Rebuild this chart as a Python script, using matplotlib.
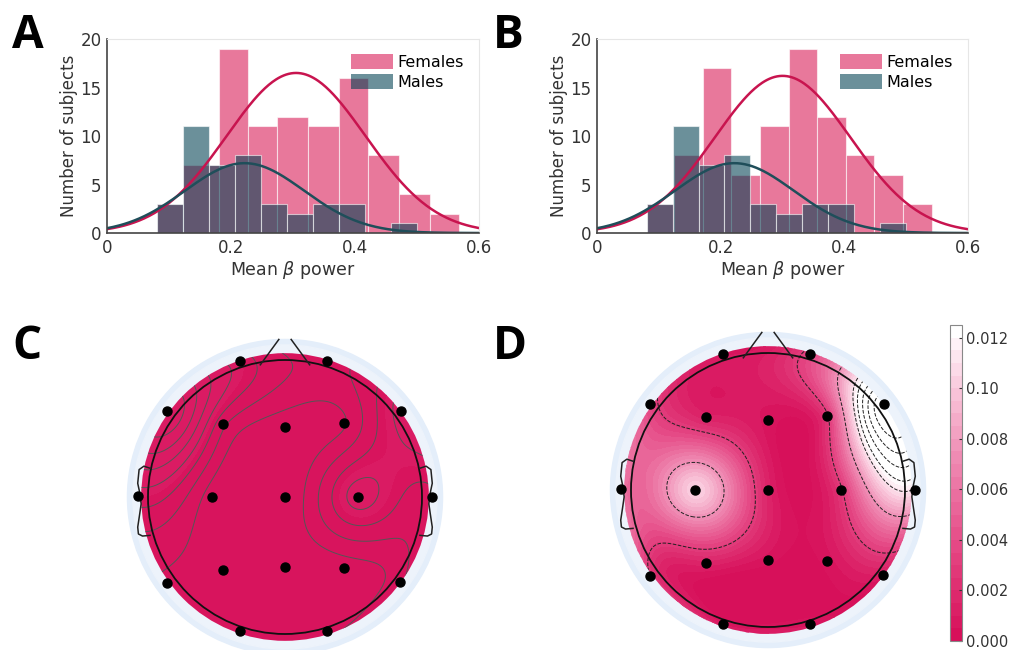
"""Beta power by sex: histograms with normal fits (A, B) and scalp maps (C, D)."""
import matplotlib
matplotlib.use("Agg")
import matplotlib.pyplot as plt
import numpy as np
from matplotlib.cm import ScalarMappable
from matplotlib.colors import BoundaryNorm, LinearSegmentedColormap, Normalize
from matplotlib.patches import Circle, Patch

# ---- histogram data -------------------------------------------------------
male_edges = [0.080, 0.122, 0.164, 0.206, 0.248, 0.290, 0.332, 0.374, 0.416, 0.458, 0.500]
male_counts = [3, 11, 7, 8, 3, 2, 3, 3, 0, 1]

female_edges_a = [0.080, 0.123, 0.180, 0.227, 0.274, 0.325, 0.375, 0.421, 0.471, 0.521, 0.568]
female_counts_a = [3, 7, 19, 11, 12, 11, 16, 8, 4, 2]

female_edges_b = [0.081, 0.124, 0.172, 0.217, 0.264, 0.311, 0.356, 0.402, 0.448, 0.495, 0.541]
female_counts_b = [3, 8, 17, 6, 11, 19, 12, 8, 6, 3]

# normal fits: (mean, sd, peak height)
female_fit_a = (0.305, 0.112, 16.5)
male_fit_a = (0.222, 0.096, 7.2)
female_fit_b = (0.300, 0.110, 16.2)
male_fit_b = (0.222, 0.096, 7.2)

# ---- scalp map data -------------------------------------------------------
channels = ["Fp1", "Fp2", "F7", "F3", "Fz", "F4", "F8", "T3", "C3", "Cz",
            "C4", "T4", "T5", "P3", "Pz", "P4", "T6", "O1", "O2"]
chan_x = [-0.33, 0.31, -0.86, -0.45, 0.00, 0.43, 0.85, -1.07, -0.53, 0.00,
          0.53, 1.07, -0.86, -0.45, 0.00, 0.43, 0.84, -0.33, 0.31]
chan_y = [0.99, 0.99, 0.63, 0.53, 0.51, 0.54, 0.63, 0.01, 0.00, 0.00,
          0.00, 0.00, -0.63, -0.53, -0.51, -0.52, -0.62, -0.98, -0.98]

power_c = [0.0005, 0.0003, 0.0010, 0.00035, 0.00015, 0.0002, 0.0006, 0.0005, 0.00015, 0.0001,
           0.0006, 0.0004, 0.0002, 0.00015, 0.0001, 0.00015, 0.0003, 0.00015, 0.00015]
power_d = [0.0005, 0.0035, 0.0035, 0.0012, 0.0003, 0.0025, 0.0185, 0.0060, 0.0105, 0.0012,
           0.0025, 0.0110, 0.0028, 0.0013, 0.0002, 0.0002, 0.0008, 0.0005, 0.0003]

cbar_ticks = [0.000, 0.002, 0.004, 0.006, 0.008, 0.010, 0.012]
cbar_labels = ["0.000", "0.002", "0.004", "0.006", "0.008", "0.10", "0.012"]

FEMALE = "#d91e58"
MALE = "#004052"
FEMALE_LINE = "#c8144f"
MALE_LINE = "#1f4e5a"
ALPHA = 0.58

plt.rcParams["font.family"] = "DejaVu Sans"


def normal_curve(x, fit):
    mu, sd, peak = fit
    return peak * np.exp(-0.5 * ((x - mu) / sd) ** 2)


def draw_hist(ax, f_edges, f_counts, f_fit, m_fit):
    f_edges = np.asarray(f_edges)
    m_edges = np.asarray(male_edges)
    ax.bar(f_edges[:-1], f_counts, width=np.diff(f_edges), align="edge",
           color=FEMALE, alpha=0.6, edgecolor="white", linewidth=0.8)
    ax.bar(m_edges[:-1], male_counts, width=np.diff(m_edges), align="edge",
           color=MALE, alpha=ALPHA, edgecolor="white", linewidth=0.8)
    xs = np.linspace(0, 0.6, 300)
    ax.plot(xs, normal_curve(xs, f_fit), color=FEMALE_LINE, lw=1.8)
    ax.plot(xs, normal_curve(xs, m_fit), color=MALE_LINE, lw=1.8)
    ax.set_xlim(0, 0.6)
    ax.set_ylim(0, 20)
    ax.set_xticks([0, 0.2, 0.4, 0.6])
    ax.set_xticklabels(["0", "0.2", "0.4", "0.6"])
    ax.set_yticks([0, 5, 10, 15, 20])
    ax.tick_params(labelsize=12, colors="#333333", length=0, pad=4)
    for s in ("left", "bottom"):
        ax.spines[s].set_color("#444444")
        ax.spines[s].set_linewidth(1.2)
    for s in ("top", "right"):
        ax.spines[s].set_color("#e6e6e6")
        ax.spines[s].set_linewidth(0.8)
    ax.set_xlabel(r"Mean $\beta$ power", fontsize=12.5, color="#333333", labelpad=2)
    ax.set_ylabel("Number of subjects", fontsize=12, color="#333333", labelpad=2)
    handles = [Patch(facecolor=FEMALE, alpha=0.6, edgecolor="none"),
               Patch(facecolor=MALE, alpha=ALPHA, edgecolor="none")]
    ax.legend(handles, ["Females", "Males"], loc="upper right", frameon=False,
              fontsize=11.5, handlelength=2.6, handleheight=1.1, handletextpad=0.3,
              borderaxespad=0.3, labelspacing=0.25, bbox_to_anchor=(0.99, 0.98))


def green(r):
    out = np.zeros_like(r)
    nz = r > 0
    out[nz] = r[nz] ** 2 * (np.log(r[nz]) - 1)
    return out


def interp_scalp(vals, gx, gy):
    ex, ey = np.asarray(chan_x), np.asarray(chan_y)
    d = np.hypot(ex[:, None] - ex[None, :], ey[:, None] - ey[None, :])
    w = np.linalg.lstsq(green(d), np.asarray(vals), rcond=None)[0]
    dg = np.hypot(gx[..., None] - ex, gy[..., None] - ey)
    return green(dg) @ w


cmap = LinearSegmentedColormap.from_list(
    "crimson_white",
    [(0.0, "#d7105a"), (0.3, "#e54a86"), (0.6, "#f090b6"),
     (0.85, "#fbd3e3"), (1.0, "#ffffff")])
cmap.set_under("#d7105a")
cmap.set_over("#ffffff")
VMAX = 0.0125
norm = Normalize(vmin=0, vmax=VMAX)
fill_levels = np.linspace(0, VMAX, 26)


def draw_head(ax, vals, line_levels, line_color, line_style):
    ax.set_xlim(-1.2, 1.2)
    ax.set_ylim(-1.2, 1.2)
    ax.axis("off")
    ax.add_patch(Circle((0, 0), 1.15, color="#e4eefa", zorder=0))
    ax.add_patch(Circle((0, 0), 1.11, color="#edf3fb", zorder=0))

    g = np.linspace(-1.1, 1.1, 321)
    gx, gy = np.meshgrid(g, g)
    z = interp_scalp(vals, gx, gy)
    disk = Circle((0, 0), 1.05, transform=ax.transData, facecolor="none", edgecolor="none")
    ax.add_patch(disk)
    cs = ax.contourf(gx, gy, z, levels=fill_levels, cmap=cmap, norm=norm,
                     extend="both", zorder=1)
    cs.set_clip_path(disk)
    cl = ax.contour(gx, gy, z, levels=line_levels, colors=line_color,
                    linewidths=0.7, linestyles=line_style, zorder=2)
    cl.set_clip_path(disk)

    ax.add_patch(Circle((0, 0), 1.0, facecolor="none", edgecolor="#111111", lw=1.3, zorder=3))
    # nose
    ax.plot([-0.18, -0.045], [0.965, 1.15], color="#222222", lw=1.1, zorder=3)
    ax.plot([0.18, 0.045], [0.965, 1.15], color="#222222", lw=1.1, zorder=3)
    # ears
    ear_x = np.array([0.985, 1.03, 1.065, 1.075, 1.06, 1.05, 1.06, 1.075, 1.07, 1.04, 0.985])
    ear_y = np.array([0.21, 0.225, 0.2, 0.1, 0.03, -0.05, -0.12, -0.22, -0.27, -0.285, -0.28])
    for side in (-1, 1):
        ax.plot(side * ear_x, ear_y, color="#222222", lw=1.1, zorder=3)
    ax.plot(chan_x, chan_y, "o", color="black", ms=6.5, zorder=4)


fig = plt.figure(figsize=(10.19, 6.5), dpi=100)

ax_a = fig.add_axes([0.105, 0.6415, 0.365, 0.2985])
ax_b = fig.add_axes([0.586, 0.6415, 0.364, 0.2985])
draw_hist(ax_a, female_edges_a, female_counts_a, female_fit_a, male_fit_a)
draw_hist(ax_b, female_edges_b, female_counts_b, female_fit_b, male_fit_b)

# head axes: 137 px per unit, centres at (285, 497) and (768, 490) px
W, H = 1019, 650
span = 1.2 * 137
lines_c = np.linspace(min(power_c), max(power_c), 9)[1:-1]
lines_d = [0.0028, 0.0075, 0.0112, 0.0125, 0.014, 0.0155, 0.017]
for cx, cy, vals, lev, col, ls in (
        (285, 497, power_c, lines_c, "#555555", "solid"),
        (768, 490, power_d, lines_d, "#222222", "dashed")):
    ax = fig.add_axes([(cx - span) / W, 1 - (cy + span) / H, 2 * span / W, 2 * span / H])
    draw_head(ax, vals, lev, col, ls)

cax = fig.add_axes([950 / W, 9 / H, 12 / W, 316 / H])
sm = ScalarMappable(norm=BoundaryNorm(fill_levels, cmap.N), cmap=cmap)
cb = fig.colorbar(sm, cax=cax, ticks=cbar_ticks, extend="neither")
cb.ax.set_ylim(0, VMAX)
cb.set_ticklabels(cbar_labels)
cb.ax.tick_params(which="minor", length=0)
cb.ax.tick_params(labelsize=10.5, colors="#333333", length=2, direction="in", pad=3)
cb.outline.set_edgecolor("#888888")
cb.outline.set_linewidth(0.8)

for label, x, y in (("A", 12, 12), ("B", 493, 12), ("C", 12, 323), ("D", 493, 323)):
    fig.text(x / W, 1 - y / H, label, fontsize=33, fontweight="bold",
             family="Open Sans", va="top", ha="left")

fig.savefig("out.png", dpi=100)
